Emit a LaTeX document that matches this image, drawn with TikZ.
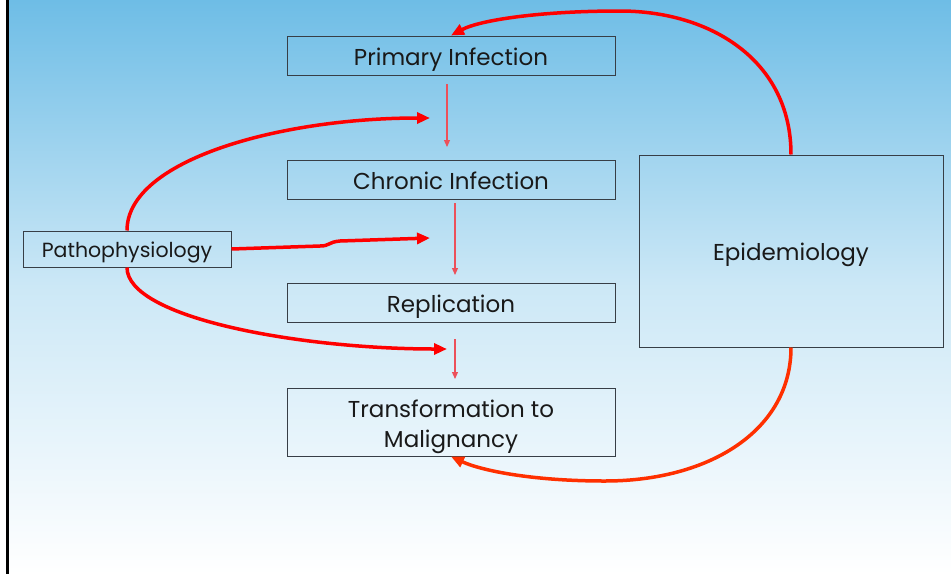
\documentclass[tikz,border=0pt]{standalone}
\usepackage{fontspec}
\setmainfont{Poppins}
\usetikzlibrary{arrows.meta}
\definecolor{slideblue}{RGB}{110,189,230}
\definecolor{boxline}{RGB}{55,62,70}
\definecolor{linkred}{RGB}{255,0,0}
\definecolor{linkorange}{RGB}{255,48,0}
\definecolor{flowpink}{RGB}{236,80,90}
\begin{document}
\begin{tikzpicture}[x=1pt,y=-1pt,
    stagebox/.style={draw=boxline, line width=1pt, minimum width=328pt, minimum height=39pt, inner sep=0pt, align=center, font=\fontsize{23}{30}\selectfont, text=black!90, text height=24pt, text depth=5pt},
    linkarrow/.style={color=linkred, line width=3.5pt, -{Triangle[length=13pt,width=11pt]}},
    flowarrow/.style={color=flowpink, line width=1.2pt, -{Triangle[length=7pt,width=6pt]}}]
    \useasboundingbox (0,0) rectangle (951,574);
    \shade[top color=slideblue, bottom color=white, middle color=slideblue!35] (9,0) rectangle (951,574);
    \draw[line width=2.5pt] (7.5,0) -- (7.5,574);

    % stages
    \node[stagebox] (primary) at (451,55.5) {Primary Infection};
    \node[stagebox] (chronic) at (451,179.5) {Chronic Infection};
    \node[stagebox] (replic) at (451,302.5) {Replication};
    \node[stagebox, minimum height=68pt, text height=55pt, text depth=5pt] (malig) at (451,422) {Transformation to\\Malignancy};
    \node[stagebox, minimum width=208pt, minimum height=36pt, font=\fontsize{20.5}{26}\selectfont, text height=22pt, text depth=5pt] (patho) at (127,249) {Pathophysiology};
    \node[stagebox, minimum width=304pt, minimum height=192pt] (epi) at (791,251) {Epidemiology};

    % free ends
    \coordinate (s1a) at (447,84);  \coordinate (s1b) at (447,147);
    \coordinate (s2a) at (455,203); \coordinate (s2b) at (455,275);
    \coordinate (s3a) at (455,339); \coordinate (s3b) at (455,379);
    \coordinate (ptop) at (430,118);
    \coordinate (pmid) at (430,238);
    \coordinate (pbot) at (447,349);
    \coordinate (etop) at (620,11);
    \coordinate (ebot) at (605,481);

    \draw[flowarrow] (s1a) -- (s1b);
    \draw[flowarrow] (s2a) -- (s2b);
    \draw[flowarrow] (s3a) -- (s3b);

    \draw[linkarrow] (patho.north) .. controls (127,160) and (280,118) .. (ptop);
    \draw[linkarrow] (patho.east) -- (320,246) .. controls (330,246) and (328,242) .. (340,241) -- (pmid);
    \draw[linkarrow] (patho.south) .. controls (127,318) and (300,349) .. (pbot);
    \draw[linkarrow] (epi.north) .. controls (791,60) and (710,11) .. (etop) .. controls (540,11) and (480,20) .. (primary.north);
    \draw[linkarrow, color=linkorange] (epi.south) .. controls (791,430) and (710,481) .. (ebot) .. controls (530,481) and (480,470) .. (malig.south);
\end{tikzpicture}
\end{document}
